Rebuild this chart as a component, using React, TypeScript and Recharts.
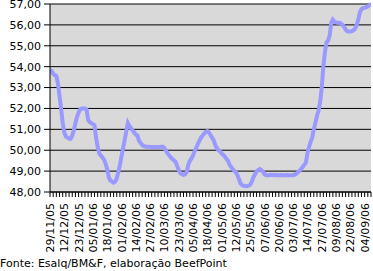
import React from "react";
import { LineChart, Line, XAxis, YAxis, CartesianGrid } from "recharts";

const prices: number[] = [
  53.85, 53.8, 53.65, 53.6, 53.55, 53.2, 52.6, 52.0, 51.3, 50.85,
  50.65, 50.6, 50.55, 50.55, 50.7, 50.95, 51.3, 51.6, 51.8, 51.95,
  52.0, 52.0, 52.0, 51.95, 51.45, 51.35, 51.3, 51.25, 51.2, 50.6,
  50.15, 49.85, 49.75, 49.65, 49.55, 49.35, 49.1, 48.7, 48.55, 48.5,
  48.45, 48.5, 48.65, 48.95, 49.3, 49.7, 50.1, 50.5, 50.9, 51.3,
  51.15, 51.05, 50.95, 50.85, 50.75, 50.7, 50.45, 50.35, 50.25, 50.2,
  50.18, 50.17, 50.17, 50.16, 50.15, 50.15, 50.14, 50.15, 50.14, 50.16,
  50.17, 50.17, 50.1, 49.98, 49.85, 49.75, 49.66, 49.58, 49.52, 49.45,
  49.25, 49.05, 48.9, 48.85, 48.82, 48.85, 48.95, 49.3, 49.5, 49.6,
  49.75, 49.95, 50.1, 50.3, 50.45, 50.6, 50.7, 50.8, 50.88, 50.92,
  50.85, 50.73, 50.6, 50.48, 50.25, 50.1, 50.0, 49.95, 49.85, 49.78,
  49.7, 49.58, 49.5, 49.3, 49.2, 49.1, 49.0, 48.95, 48.8, 48.6,
  48.4, 48.32, 48.3, 48.28, 48.28, 48.3, 48.35, 48.5, 48.7, 48.85,
  48.98, 49.05, 49.1, 49.05, 48.98, 48.85, 48.8, 48.8, 48.8, 48.82,
  48.81, 48.8, 48.82, 48.8, 48.8, 48.81, 48.8, 48.8, 48.8, 48.81,
  48.8, 48.8, 48.8, 48.8, 48.83, 48.88, 48.95, 49.0, 49.1, 49.2,
  49.3, 49.4, 49.85, 50.15, 50.4, 50.6, 51.0, 51.3, 51.65, 51.9,
  52.3, 53.0, 54.0, 54.7, 55.15, 55.25, 55.5, 56.1, 56.25, 56.15,
  56.12, 56.1, 56.1, 56.08, 56.0, 55.92, 55.78, 55.7, 55.68, 55.68,
  55.7, 55.75, 55.82, 56.0, 56.25, 56.6, 56.75, 56.8, 56.82, 56.85,
  56.88, 56.95, 57.0,
];

const dateLabels: string[] = [
  "29/11/05", "12/12/05", "23/12/05", "05/01/06", "18/01/06", "01/02/06",
  "14/02/06", "27/02/06", "10/03/06", "23/03/06", "05/04/06", "18/04/06",
  "01/05/06", "12/05/06", "25/05/06", "07/06/06", "20/06/06", "03/07/06",
  "14/07/06", "27/07/06", "09/08/06", "22/08/06", "04/09/06",
];

const yTicks: number[] = [48, 49, 50, 51, 52, 53, 54, 55, 56, 57];

const LABEL_STEP = 9;
const FONT = "'DejaVu Sans', Verdana, sans-serif";

const rows = prices.map((v, i) => ({ i, price: v }));
const lastIndex = prices.length - 1;
const xTicks: number[] = rows
  .map((r) => r.i)
  .filter((i) => i % 2 === 0 || i % LABEL_STEP === 0);

const XTick = (props: any) => {
  const { x, payload } = props;
  const idx: number = payload.value;
  const axisY = 192;
  const showLine = idx % 2 === 0;
  const showLabel = idx % LABEL_STEP === 0;
  const label = dateLabels[idx / LABEL_STEP];
  return (
    <g>
      {showLine && (
        <line x1={x} x2={x} y1={axisY} y2={axisY + 5} stroke="#000" strokeWidth={1} />
      )}
      {showLabel && label && (
        <text
          transform={`translate(${x + 4},${axisY + 11}) rotate(-90)`}
          textAnchor="end"
          fontSize={11}
          fontFamily={FONT}
          fill="#000"
        >
          {label}
        </text>
      )}
    </g>
  );
};

export default function App() {
  return (
    <div
      style={{
        position: "fixed",
        left: 0,
        top: 0,
        width: 373,
        height: 271,
        background: "#fff",
        fontFamily: FONT,
        overflow: "hidden",
      }}
    >
      <LineChart
        width={373}
        height={271}
        data={rows}
        margin={{ top: 4, right: 2, left: 0, bottom: 0 }}
      >
        <CartesianGrid
          horizontal={true}
          vertical={false}
          stroke="#000"
          strokeOpacity={1}
          fill="#D9D9D9"
          fillOpacity={1}
        />
        <XAxis
          dataKey="i"
          type="number"
          domain={[0, lastIndex]}
          ticks={xTicks}
          interval={0}
          height={79}
          tickLine={false}
          axisLine={{ stroke: "#000" }}
          tick={<XTick />}
          allowDataOverflow
        />
        <YAxis
          domain={[48, 57]}
          ticks={yTicks}
          interval={0}
          width={50}
          tickSize={6}
          tickMargin={3}
          tickLine={{ stroke: "#000" }}
          axisLine={{ stroke: "#000" }}
          tick={{ fill: "#000", fontSize: 11, fontFamily: FONT }}
          tickFormatter={(v: number) => v.toFixed(2).replace(".", ",")}
        />
        <Line
          type="linear"
          dataKey="price"
          stroke="#9999FF"
          strokeWidth={4}
          dot={false}
          isAnimationActive={false}
        />
      </LineChart>
      <div
        style={{
          position: "absolute",
          left: 0,
          top: 257,
          fontSize: 11,
          lineHeight: "13px",
          color: "#000",
          whiteSpace: "nowrap",
        }}
      >
        Fonte: Esalq/BM&amp;F, elaboração BeefPoint
      </div>
    </div>
  );
}
